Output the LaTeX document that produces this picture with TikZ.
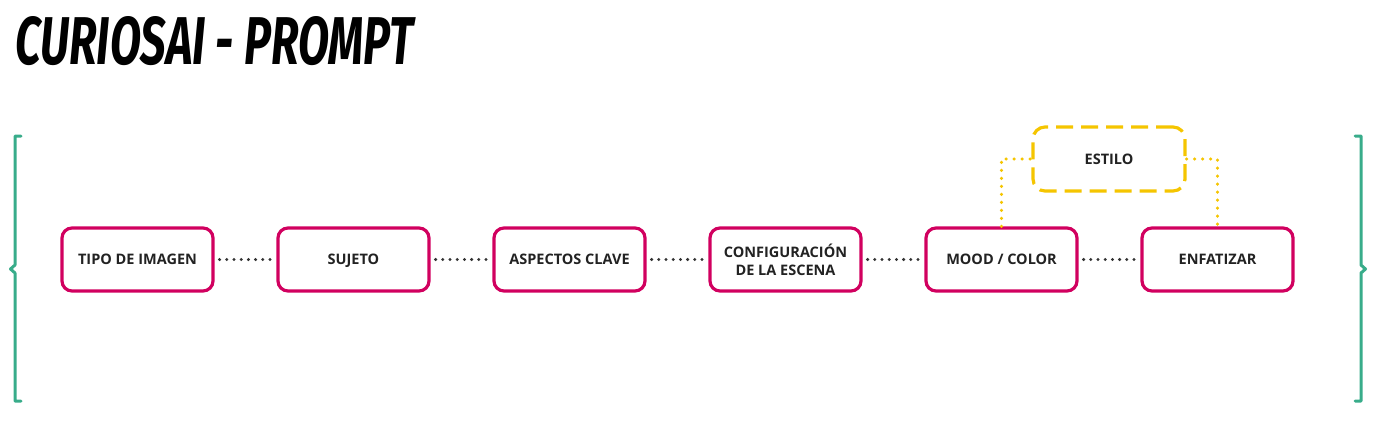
\documentclass[tikz,border=0pt]{standalone}
\usepackage{fontspec}
\setmainfont{Open Sans}
\newfontfamily\titlefont{Fira Sans}
\usetikzlibrary{calc}
\definecolor{boxpink}{HTML}{D1005F}
\definecolor{brgreen}{HTML}{38AC8A}
\definecolor{styyellow}{HTML}{F5C500}
\definecolor{txtdark}{HTML}{222222}
\definecolor{dotgray}{HTML}{333333}
\tikzset{
  stepbox/.style={draw=boxpink, line width=3.2pt, rounded corners=10pt, minimum width=151pt, minimum height=63pt, align=center, text=txtdark, font=\fontsize{14.5}{18}\selectfont\bfseries, inner sep=0pt},
  oneline/.style={text height=10.5pt, text depth=0pt},
  stylebox/.style={draw=styyellow, line width=3.2pt, rounded corners=12pt, minimum width=152pt, minimum height=64pt, align=center, text=txtdark, font=\fontsize{14.5}{18}\selectfont\bfseries, dash pattern=on 17pt off 8pt, inner sep=0pt, text height=10.5pt, text depth=0pt},
  blackdots/.style={draw=dotgray, line width=3.3pt, line cap=round, dash pattern=on 0pt off 7.2pt, shorten >=5pt, shorten <=5pt},
  yellowdots/.style={draw=styyellow, line width=3.4pt, line cap=round, dash pattern=on 0pt off 8pt},
  bracket/.style={draw=brgreen, line width=3pt, line join=round, line cap=round}
}
\begin{document}
\begin{tikzpicture}[x=1pt,y=-1pt]
\useasboundingbox (0,0) rectangle (1380,423);
\node[anchor=north west, inner sep=0pt] (title) at (15,16) {\resizebox{398pt}{48pt}{\titlefont\bfseries\itshape CURIOSAI - PROMPT}};
\node[stepbox, oneline] (tipo) at (137.5,259.5) {TIPO DE IMAGEN};
\node[stepbox, oneline] (sujeto) at (353.5,259.5) {SUJETO};
\node[stepbox, oneline] (aspectos) at (569.5,259.5) {ASPECTOS CLAVE};
\node[stepbox] (config) at (785.5,259.5) {CONFIGURACIÓN\\DE LA ESCENA};
\node[stepbox, oneline] (mood) at (1001.5,259.5) {MOOD / COLOR};
\node[stepbox, oneline] (enf) at (1217.5,259.5) {ENFATIZAR};
\node[stylebox] (estilo) at (1109,159) {ESTILO};
\draw[blackdots] (tipo) -- (sujeto);
\draw[blackdots] (sujeto) -- (aspectos);
\draw[blackdots] (aspectos) -- (config);
\draw[blackdots] (config) -- (mood);
\draw[blackdots] (mood) -- (enf);
\draw[yellowdots] (mood.north) |- (estilo.west);
\draw[yellowdots] (estilo.east) -| (enf.north);
\draw[bracket] (21,136) -- (15,136) -- (15,265) -- (10.5,269) -- (15,273) -- (15,401) -- (21,401);
\draw[bracket] (1355,136) -- (1361,136) -- (1361,265) -- (1365.5,269) -- (1361,273) -- (1361,401) -- (1355,401);
\end{tikzpicture}
\end{document}
